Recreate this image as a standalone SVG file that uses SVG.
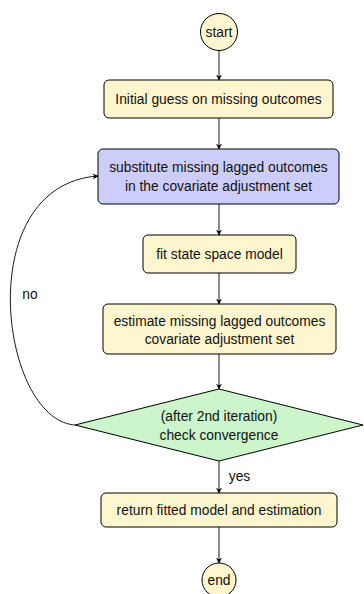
<svg xmlns="http://www.w3.org/2000/svg" width="364" height="594" viewBox="0 0 364 594">
<defs>
<style>
.box{fill:#FDF6CF;stroke:#000;stroke-width:1}
.blue{fill:#CDCDFA;stroke:#000;stroke-width:1}
.green{fill:#CCF5CC;stroke:#000;stroke-width:1}
text{font-family:"Liberation Sans",Arial,sans-serif;font-size:13.8px;fill:#111;text-anchor:middle}
.edge{fill:none;stroke:#000;stroke-width:0.9;marker-end:url(#ah)}
</style>
<marker id="ah" viewBox="0 0 10 10" refX="9" refY="5" markerWidth="6" markerHeight="6" markerUnits="userSpaceOnUse" orient="auto">
<path d="M0,0 L10,5 L0,10 L3,5 Z" fill="#000"/>
</marker>
</defs>
<rect width="364" height="594" fill="#fff"/>
<g id="start"><circle class="box" cx="219" cy="32" r="18.5"/><text x="219" y="37">start</text></g>
<g id="init"><rect class="box" x="104" y="80" width="229" height="38" rx="5"/><text x="218.5" y="104">Initial guess on missing outcomes</text></g>
<g id="subst"><rect class="blue" x="98" y="149" width="241" height="55" rx="5"/><text x="218.5" y="172">substitute missing lagged outcomes</text><text x="218.5" y="191">in the covariate adjustment set</text></g>
<g id="fit"><rect class="box" x="143" y="235" width="153" height="38" rx="5"/><text x="219.5" y="259">fit state space model</text></g>
<g id="estimate"><rect class="box" x="103" y="304" width="233" height="50" rx="5"/><text x="219.5" y="326">estimate missing lagged outcomes</text><text x="219.5" y="344">covariate adjustment set</text></g>
<g id="check"><polygon class="green" points="219,389 363,425 219,461 75,425"/><text x="219" y="421">(after 2nd iteration)</text><text x="219" y="440">check convergence</text></g>
<g id="return"><rect class="box" x="101" y="493" width="236" height="34" rx="5"/><text x="219" y="515">return fitted model and estimation</text></g>
<g id="end"><circle class="box" cx="219" cy="580" r="17"/><text x="219" y="585">end</text></g>
<g id="connectors">
<line class="edge" x1="219" y1="50.5" x2="219" y2="80"/>
<line class="edge" x1="219" y1="118" x2="219" y2="149"/>
<line class="edge" x1="219" y1="204" x2="219" y2="235"/>
<line class="edge" x1="219" y1="273" x2="219" y2="304"/>
<line class="edge" x1="219" y1="354" x2="219" y2="389"/>
<line class="edge" x1="219" y1="461" x2="219" y2="493"/>
<line class="edge" x1="219" y1="527" x2="219" y2="563"/>
<path class="edge" d="M75,425 C0,420 -30,185 98,176"/>
<text x="30" y="299">no</text>
<text x="239.5" y="481">yes</text>
</g>
</svg>
